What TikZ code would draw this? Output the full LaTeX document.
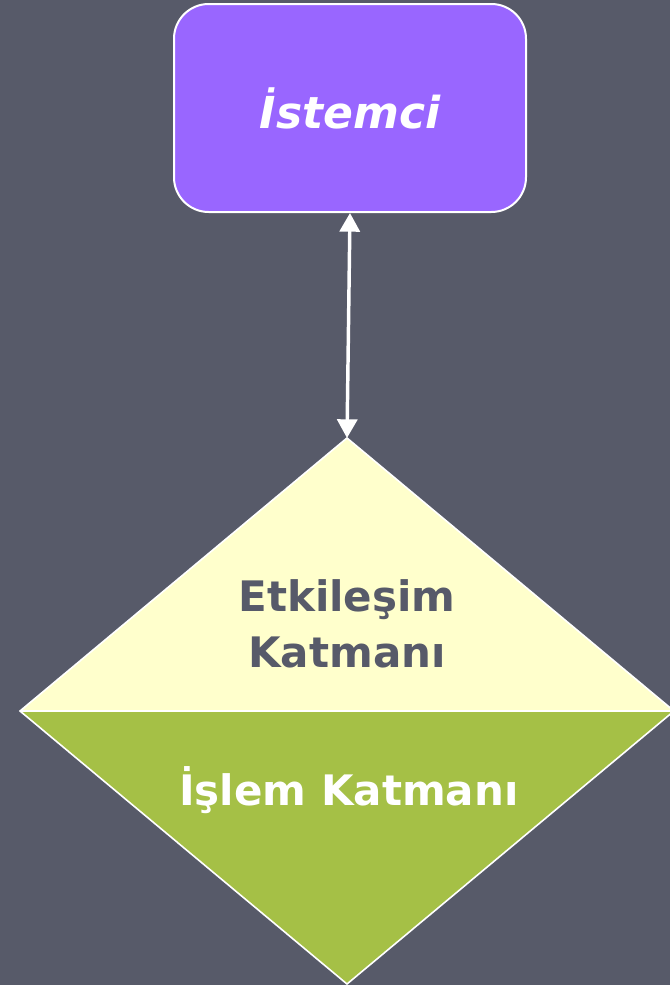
\documentclass[tikz,border=0pt]{standalone}
\usepackage{fontspec}
\setmainfont{DejaVu Sans}
\usetikzlibrary{arrows.meta}

\definecolor{bgslate}{RGB}{87,90,105}
\definecolor{clientpurple}{RGB}{153,102,255}
\definecolor{paleyellow}{RGB}{255,255,204}
\definecolor{leafgreen}{RGB}{165,192,70}

\begin{document}
\begin{tikzpicture}[x=0.75pt,y=0.75pt,yscale=-1,xscale=1,
  clientbox/.style={draw=white, line width=1.5pt, fill=clientpurple, rounded corners=26pt,
    minimum width=264pt, minimum height=156pt, inner sep=0pt,
    text=white, font=\fontsize{33}{42}\selectfont\bfseries\itshape},
  layerline/.style={draw=white, line width=1.2pt, line join=miter},
  link/.style={draw=white, line width=2.6pt, {Triangle[width=15pt,length=14pt]}-{Triangle[width=15pt,length=14pt]}},
  layertext/.style={inner sep=0pt, align=center, font=\fontsize{31.5}{42}\selectfont\bfseries}]
%set picture area at 670 x 985
\fill[bgslate] (0,0) rectangle (670,985);
\useasboundingbox (0,0) rectangle (670,985);

%Shape: Rounded Rect [client]
\node[clientbox] (istemci) at (350,108) {İstemci};

%Shape: Diamond corners
\coordinate (dtop) at (347,438);
\coordinate (dleft) at (20,711);
\coordinate (dright) at (674,711);
\coordinate (dbot) at (347,984);

%Shape: upper and lower halves
\fill[paleyellow] (dtop) -- (dright) -- (dleft) -- cycle;
\fill[leafgreen] (dleft) -- (dright) -- (dbot) -- cycle;
\draw[layerline] (dtop) -- (dright) -- (dbot) -- (dleft) -- cycle;
\draw[layerline] (dleft) -- (dright);

%Straight Lines [two-way link]
\draw[link] (istemci.south) -- (dtop);

% Text Node
\node[layertext, text=bgslate] (etkilesim) at (347,624) {Etkileşim\\Katmanı};
% Text Node
\node[layertext, text=white, anchor=base] (islem) at (349,805) {İşlem Katmanı};

\end{tikzpicture}
\end{document}
